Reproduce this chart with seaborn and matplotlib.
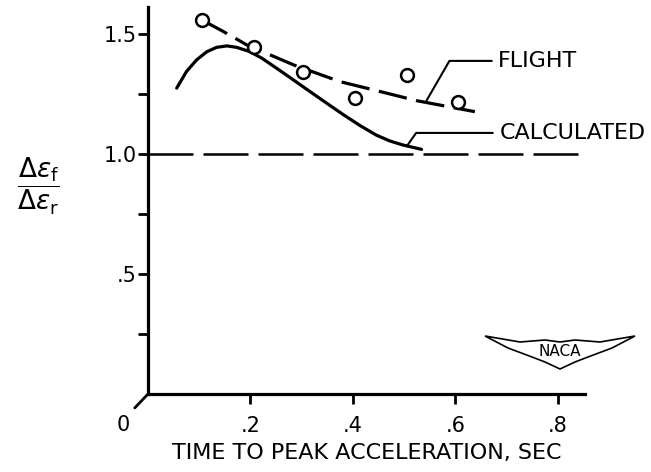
import matplotlib
matplotlib.use("Agg")
import matplotlib.pyplot as plt
import seaborn as sns
import numpy as np
import pandas as pd
from matplotlib.patches import Polygon

# ---- data ----
flight_x = [0.105, 0.206, 0.303, 0.404, 0.505, 0.605]
flight_y = [1.558, 1.447, 1.343, 1.232, 1.329, 1.218]

fair_x = [0.105, 0.147, 0.193, 0.284, 0.375, 0.453, 0.524, 0.638]
fair_y = [1.558, 1.510, 1.454, 1.371, 1.301, 1.260, 1.222, 1.176]

calc_x = [0.056, 0.075, 0.095, 0.115, 0.134, 0.154, 0.173, 0.199, 0.222,
          0.251, 0.284, 0.316, 0.349, 0.381, 0.414, 0.446, 0.472, 0.498, 0.534]
calc_y = [1.274, 1.343, 1.392, 1.426, 1.444, 1.450, 1.444, 1.426, 1.399,
          1.357, 1.308, 1.260, 1.211, 1.164, 1.118, 1.078, 1.054, 1.037, 1.019]

ref_x = [0.0, 0.85]
ref_y = [1.0, 1.0]

xticks = [0.2, 0.4, 0.6, 0.8]
xtick_labels = [".2", ".4", ".6", ".8"]
yticks = [0.5, 1.0, 1.5]
ytick_labels = [".5", "1.0", "1.5"]
yminor = [0.25, 0.75, 1.25]

sns.set_style("white")
plt.rcParams["font.family"] = ["DejaVu Sans"]
plt.rcParams["mathtext.fontset"] = "dejavusans"
plt.rcParams["text.color"] = "black"
plt.rcParams["axes.labelcolor"] = "black"
plt.rcParams["xtick.color"] = "black"
plt.rcParams["ytick.color"] = "black"

fig = plt.figure(figsize=(6.51, 4.72), dpi=100)
ax = fig.add_axes([148/651, 1 - 394/472, (585-148)/651, (394-7)/472])

df_fair = pd.DataFrame({"x": fair_x, "y": fair_y})
df_calc = pd.DataFrame({"x": calc_x, "y": calc_y})
df_ref = pd.DataFrame({"x": ref_x, "y": ref_y})
df_flight = pd.DataFrame({"x": flight_x, "y": flight_y})

sns.lineplot(data=df_ref, x="x", y="y", ax=ax, color="black", lw=1.8)
ax.lines[-1].set_dashes((18, 4))
sns.lineplot(data=df_fair, x="x", y="y", ax=ax, color="black", lw=2.3)
ax.lines[-1].set_dashes((9, 3))
sns.lineplot(data=df_calc, x="x", y="y", ax=ax, color="black", lw=2.3)
ax.lines[-1].set_solid_joinstyle("round")
sns.scatterplot(data=df_flight, x="x", y="y", ax=ax, s=85, facecolor="white",
                edgecolor="black", linewidth=1.8, zorder=5)

ax.set_xlim(0, 0.853)
ax.set_ylim(0, 1.612)
sns.despine(ax=ax)
for s in ["left", "bottom"]:
    ax.spines[s].set_linewidth(2.3)
    ax.spines[s].set_color("black")

ax.set_xticks(xticks)
ax.set_xticklabels(xtick_labels, fontsize=15)
ax.set_yticks(yticks)
ax.set_yticklabels(ytick_labels, fontsize=15)
ax.set_yticks(yminor, minor=True)
ax.tick_params(axis="both", which="both", direction="out", color="black",
               labelcolor="black", width=2, length=7, bottom=True, left=True)
ax.tick_params(axis="x", pad=9)
ax.tick_params(axis="y", pad=1)
ax.set_xlabel("TIME TO PEAK ACCELERATION, SEC", fontsize=16, labelpad=5,
              color="black")
ax.set_ylabel("")

# origin mark and "0"
ax.annotate("", xy=(0, 0), xycoords="data", xytext=(-9.5, -10),
            textcoords="offset points",
            arrowprops=dict(arrowstyle="-", lw=2, shrinkA=0, shrinkB=0, color="black"))
ax.annotate("0", xy=(0, 0), xycoords="data", xytext=(-18, -22.5),
            textcoords="offset points", ha="center", va="center", fontsize=15)

# y label as fraction
fig.text(38/651, 1 - 186/472,
         r"$\dfrac{\Delta\epsilon_\mathrm{f}}{\Delta\epsilon_\mathrm{r}}$",
         fontsize=19, ha="center", va="center")

# leader lines and labels
ax.annotate("", xy=(0.5436, 1.222), xytext=(0.671, 1.3875),
            arrowprops=dict(arrowstyle="-", connectionstyle="angle,angleA=0,angleB=60,rad=0",
                            shrinkA=0, shrinkB=0, lw=1.5, color="black"))
ax.text(0.683, 1.3875, "FLIGHT", fontsize=16, ha="left", va="center")
ax.annotate("", xy=(0.506, 1.0346), xytext=(0.673, 1.0875),
            arrowprops=dict(arrowstyle="-", connectionstyle="angle,angleA=0,angleB=55,rad=0",
                            shrinkA=0, shrinkB=0, lw=1.5, color="black"))
ax.text(0.687, 1.0875, "CALCULATED", fontsize=16, ha="left", va="center")

# NACA wing logo (decoration)
wing_px = [(485, 336), (520, 342), (545, 340), (560, 342), (575, 340), (600, 342),
           (635, 336), (612, 348), (588, 357), (575, 362), (560, 369),
           (545, 362), (532, 357), (508, 348)]
wing = Polygon([(x/651, 1 - y/472) for x, y in wing_px], closed=True,
               transform=fig.transFigure, fill=False, lw=1.2, edgecolor="black")
fig.patches.append(wing)
fig.text(560/651, 1 - 351/472, "NACA", fontsize=11, ha="center", va="center")

fig.savefig("out.png", dpi=100)
